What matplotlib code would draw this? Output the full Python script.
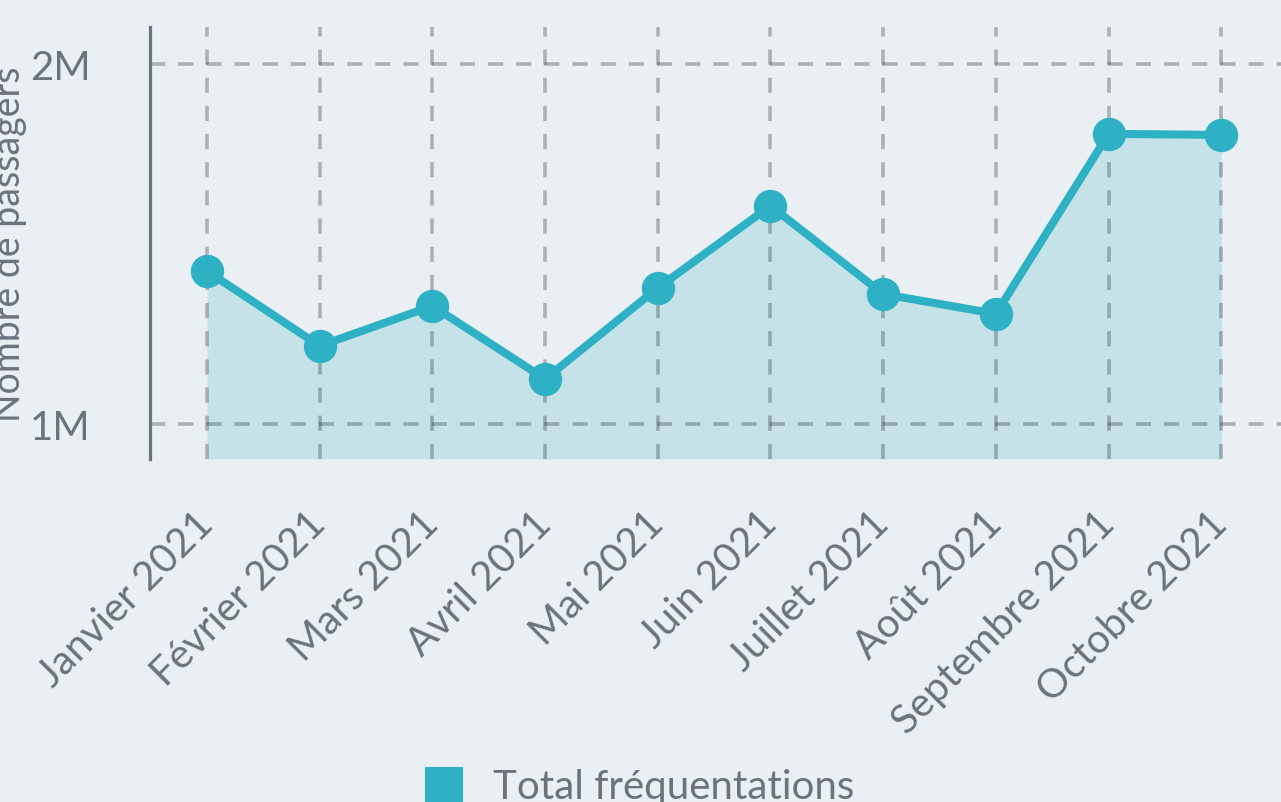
import matplotlib
matplotlib.use("Agg")
import matplotlib.pyplot as plt
from matplotlib.patches import Patch
from matplotlib.ticker import FuncFormatter

# ==========================================
# Data
# ==========================================

months = [
    "Janvier 2021", "Février 2021", "Mars 2021", "Avril 2021",
    "Mai 2021", "Juin 2021", "Juillet 2021", "Août 2021",
    "Septembre 2021", "Octobre 2021",
]

passengers = [
    1425000, 1217000, 1328000, 1125000, 1378000,
    1606000, 1361000, 1306000, 1806000, 1803000,
]

series_label = "Total fréquentations"
y_label = "Nombre de passagers"

# ==========================================
# Style
# ==========================================

bg = "#e9eff2"
teal = "#2eb1c4"
fill = "#c4e2e7"
text_col = "#6b737c"

plt.rcParams["font.family"] = ["Lato", "DejaVu Sans"]

fig = plt.figure(figsize=(12.81, 8.03), dpi=100, facecolor=bg)
ax = fig.add_axes([150 / 1281, 1 - 460 / 803, 1 - 150 / 1281, (460 - 28) / 803])
ax.set_facecolor(bg)

x = list(range(len(months)))
ymin, ymax = 902800, 2102800

# area + line
ax.fill_between(x, passengers, ymin, color=fill, linewidth=0, zorder=1)
ax.plot(x, passengers, color=teal, linewidth=5.8, marker="o",
        markersize=23, zorder=3, solid_capstyle="round")

ax.set_xlim(-0.506, 9.53)
ax.set_ylim(ymin, ymax)

# dashed grid above the fill, below the line
ax.set_axisbelow("line")
ax.grid(True, color="#1e2226", alpha=0.3, linewidth=2.6,
        linestyle=(0, (4.2, 3.6)))

ax.set_xticks(x)
ax.set_xticklabels(months, rotation=45, ha="right",
                   rotation_mode="anchor", va="center")
ax.set_yticks([1000000, 2000000])
ax.yaxis.set_major_formatter(FuncFormatter(lambda v, p: f"{v / 1e6:.0f}M"))

ax.tick_params(axis="both", length=0, colors=text_col, labelsize=29)
ax.tick_params(axis="y", pad=43)
ax.tick_params(axis="x", pad=42)

for side in ["top", "right", "bottom"]:
    ax.spines[side].set_visible(False)
ax.spines["left"].set_color(text_col)
ax.spines["left"].set_linewidth(2.3)

fig.text(27 / 1281, 1 - 244 / 803, y_label, rotation=90,
         ha="right", va="center", color=text_col, fontsize=27)

# legend at the bottom, cut by the figure edge as in the source
fig.legend(
    handles=[Patch(facecolor=teal, edgecolor="none", label=series_label)],
    loc="upper left", bbox_to_anchor=(425 / 1281, 1 - 768 / 803),
    frameon=False, fontsize=29, labelcolor=text_col,
    handlelength=0.95, handleheight=0.95, handletextpad=0.75,
    borderpad=0, borderaxespad=0,
)

fig.savefig("out.png", dpi=100, facecolor=bg)
